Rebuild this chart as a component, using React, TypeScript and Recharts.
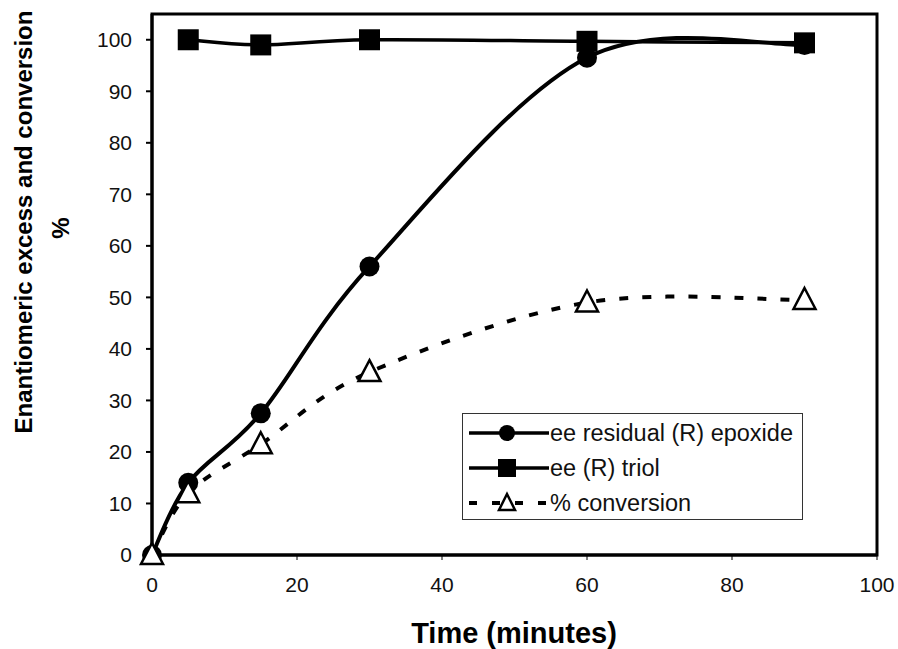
import React from 'react';
import { LineChart, Line, XAxis, YAxis, Legend, ReferenceArea } from 'recharts';

// readings from the figure
const minutes = [0, 5, 15, 30, 60, 90];
const eeEpoxide = [0, 14, 27.5, 56, 96.5, 99];
const eeTriol = [null, 100, 99, 100, 99.7, 99.4];
const conversion = [0, 12, 21.5, 35.5, 49, 49.5];

const xTicks = [0, 20, 40, 60, 80, 100];
const yTicks = [0, 10, 20, 30, 40, 50, 60, 70, 80, 90, 100];

const seriesNames = ['ee residual (R) epoxide', 'ee (R) triol', '% conversion'];

const data = minutes.map((t, i) => ({
  t,
  epoxide: eeEpoxide[i],
  triol: eeTriol[i],
  conv: conversion[i],
}));

const FONT = '"Liberation Sans", Arial, sans-serif';

// Excel-style smoothed line (bezier through points, tangent = neighbour diff / 6)
const excelSmooth = (context: any) => {
  let pts: number[][] = [];
  return {
    areaStart() {},
    areaEnd() {},
    lineStart() {
      pts = [];
    },
    point(x: number, y: number) {
      pts.push([+x, +y]);
    },
    lineEnd() {
      const n = pts.length;
      if (!n) return;
      context.moveTo(pts[0][0], pts[0][1]);
      for (let i = 0; i < n - 1; i++) {
        const p0 = pts[Math.max(i - 1, 0)];
        const p1 = pts[i];
        const p2 = pts[i + 1];
        const p3 = pts[Math.min(i + 2, n - 1)];
        context.bezierCurveTo(
          p1[0] + (p2[0] - p0[0]) / 6,
          p1[1] + (p2[1] - p0[1]) / 6,
          p2[0] - (p3[0] - p1[0]) / 6,
          p2[1] - (p3[1] - p1[1]) / 6,
          p2[0],
          p2[1]
        );
      }
    },
  };
};

const Circle = (p: any) =>
  p.cx == null || p.cy == null ? <g key={p.index} /> : <circle key={p.index} cx={p.cx} cy={p.cy} r={10} fill="#000" />;

const Square = (p: any) =>
  p.cx == null || p.cy == null || p.value == null ? (
    <g key={p.index} />
  ) : (
    <rect key={p.index} x={p.cx - 10.5} y={p.cy - 10.5} width={21} height={21} fill="#000" />
  );

const Triangle = (p: any) =>
  p.cx == null || p.cy == null ? (
    <g key={p.index} />
  ) : (
    <path
      key={p.index}
      d={`M${p.cx},${p.cy - 12} L${p.cx + 11},${p.cy + 9} L${p.cx - 11},${p.cy + 9} Z`}
      fill="#fff"
      stroke="#000"
      strokeWidth={2.5}
    />
  );

function LegendBox() {
  const rowY = [19, 54, 89];
  return (
    <div
      style={{
        width: 341,
        height: 107,
        border: '1.5px solid #333',
        background: '#fff',
        boxSizing: 'border-box',
        position: 'relative',
      }}
    >
      <svg width={341} height={107} style={{ position: 'absolute', left: 0, top: 0 }}>
        <line x1={6} x2={86} y1={rowY[0]} y2={rowY[0]} stroke="#000" strokeWidth={3.5} />
        <circle cx={44} cy={rowY[0]} r={8} fill="#000" />
        <line x1={6} x2={86} y1={rowY[1]} y2={rowY[1]} stroke="#000" strokeWidth={3.5} />
        <rect x={35} y={rowY[1] - 9} width={18} height={18} fill="#000" />
        <line x1={6} x2={86} y1={rowY[2]} y2={rowY[2]} stroke="#000" strokeWidth={4} strokeDasharray="8 15" />
        <path
          d={`M44,${rowY[2] - 9} L52,${rowY[2] + 7} L36,${rowY[2] + 7} Z`}
          fill="#fff"
          stroke="#000"
          strokeWidth={2.5}
        />
        {seriesNames.map((name, i) => (
          <text key={name} x={87} y={rowY[i]} dy="0.35em" fontSize={23.5} fontFamily={FONT} fill="#111">
            {name}
          </text>
        ))}
      </svg>
    </div>
  );
}

export default function App() {
  return (
    <div style={{ position: 'absolute', left: 0, top: 0, background: '#fff' }}>
      <LineChart width={898} height={649} data={data} margin={{ top: 14, right: 21, bottom: 0, left: 0 }}>
        <ReferenceArea x1={0} x2={100} y1={0} y2={105} fill="none" stroke="#000" strokeWidth={3} ifOverflow="extendDomain" />
        <XAxis
          dataKey="t"
          type="number"
          domain={[0, 100]}
          ticks={xTicks}
          height={94}
          tickSize={5}
          tickMargin={17}
          axisLine={{ stroke: '#000', strokeWidth: 3 }}
          tickLine={{ stroke: '#000', strokeWidth: 1 }}
          tick={{ fill: '#111', fontSize: 21, fontFamily: FONT }}
          label={{
            content: () => (
              <text x={514} y={633} textAnchor="middle" dominantBaseline="central" fontSize={29} fontWeight="bold" fontFamily={FONT} fill="#000">
                Time (minutes)
              </text>
            ),
          }}
        />
        <YAxis
          type="number"
          domain={[0, 105]}
          ticks={yTicks}
          width={152}
          tickSize={6}
          tickMargin={14}
          axisLine={{ stroke: '#000', strokeWidth: 3 }}
          tickLine={{ stroke: '#000', strokeWidth: 2 }}
          tick={{ fill: '#111', fontSize: 21, fontFamily: FONT }}
          label={{
            content: () => (
              <g>
                <text
                  transform="translate(23,222) rotate(-90)"
                  textAnchor="middle"
                  dominantBaseline="central"
                  fontSize={24}
                  fontWeight="bold"
                  fontFamily={FONT}
                  fill="#000"
                >
                  Enantiomeric excess and conversion
                </text>
                <text
                  transform="translate(60,228) rotate(-90)"
                  textAnchor="middle"
                  dominantBaseline="central"
                  fontSize={24}
                  fontWeight="bold"
                  fontFamily={FONT}
                  fill="#000"
                >
                  %
                </text>
              </g>
            ),
          }}
        />
        <Legend
          layout="vertical"
          align="center"
          verticalAlign="middle"
          content={() => <LegendBox />}
          wrapperStyle={{ position: 'absolute', left: 462, top: 413, width: 341, height: 107 }}
        />
        <Line
          dataKey="triol"
          name={seriesNames[1]}
          type={excelSmooth as any}
          stroke="#000"
          strokeWidth={3.5}
          dot={Square}
          activeDot={false}
          isAnimationActive={false}
        />
        <Line
          dataKey="epoxide"
          name={seriesNames[0]}
          type={excelSmooth as any}
          stroke="#000"
          strokeWidth={4}
          dot={Circle}
          activeDot={false}
          isAnimationActive={false}
        />
        <Line
          dataKey="conv"
          name={seriesNames[2]}
          type={excelSmooth as any}
          stroke="#000"
          strokeWidth={4}
          strokeDasharray="9 14"
          dot={Triangle}
          activeDot={false}
          isAnimationActive={false}
        />
      </LineChart>
    </div>
  );
}
